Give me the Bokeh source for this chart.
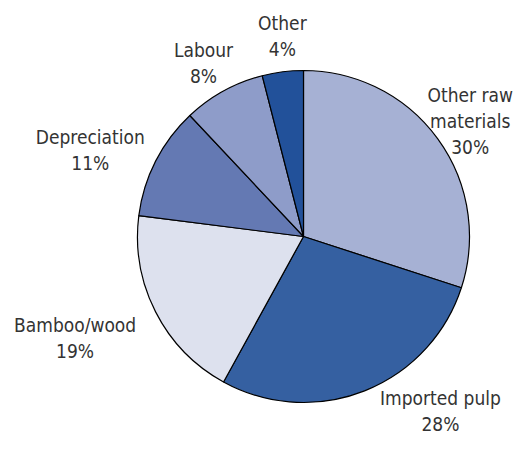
import math
from bokeh.plotting import figure
from bokeh.models import Range1d, ColumnDataSource
from bokeh.core.properties import value
from bokeh.embed import file_html
from bokeh.resources import INLINE

# ---- data ----
categories = ["Other raw\nmaterials", "Imported pulp", "Bamboo/wood", "Depreciation", "Labour", "Other"]
shares = [30, 28, 19, 11, 8, 4]
colors = ["#a6b1d4", "#3560a1", "#dde1ee", "#6479b3", "#8e9cc9", "#22519a"]

# ---- layout (y measured upward from bottom of window) ----
W, H = 515, 436
cx, cy, R = 303, 452 - 236, 166
# label distance from centre (px) and direction (deg clockwise from top)
label_dist = [203, 221.5, 250, 230, 200, 202]
label_dir = [55.2, 141.8, 246, 292, 330, 354]
line_h = 26

total = float(sum(shares))
starts, ends = [], []
cum = 0.0
for s in shares:
    starts.append(math.pi / 2 - 2 * math.pi * cum / total)
    ends.append(math.pi / 2 - 2 * math.pi * (cum + s) / total)
    cum += s

p = figure(width=W, height=H, output_backend="svg", toolbar_location=None,
           x_range=Range1d(0, W), y_range=Range1d(452 - H, 452),
           min_border=0)
p.axis.visible = False
p.grid.visible = False
p.outline_line_color = None
p.background_fill_color = "white"

src = ColumnDataSource(dict(start=starts, end=ends, color=colors))
p.wedge(x=cx, y=cy, radius=R, start_angle="start", end_angle="end",
        direction="clock", fill_color="color", line_color="black",
        line_width=1.2, source=src)

# multi-line labels, centred
tx, ty, tt = [], [], []
for c, s, d, a in zip(categories, shares, label_dist, label_dir):
    rad = math.radians(a)
    x = cx + d * math.sin(rad)
    y = cy + d * math.cos(rad)
    lines = c.split("\n") + [f"{s}%"]
    n = len(lines)
    for k, ln in enumerate(lines):
        tx.append(x)
        ty.append(y + (n - 1) / 2 * line_h - k * line_h)
        tt.append(ln)
p.text(x=tx, y=ty, text=tt, text_align="center", text_baseline="middle",
       text_font=value("'DejaVu Sans Condensed', 'Liberation Sans', sans-serif"),
       text_font_size="19px", text_color="#333333")

open("out.html", "w").write(file_html(p, INLINE))
